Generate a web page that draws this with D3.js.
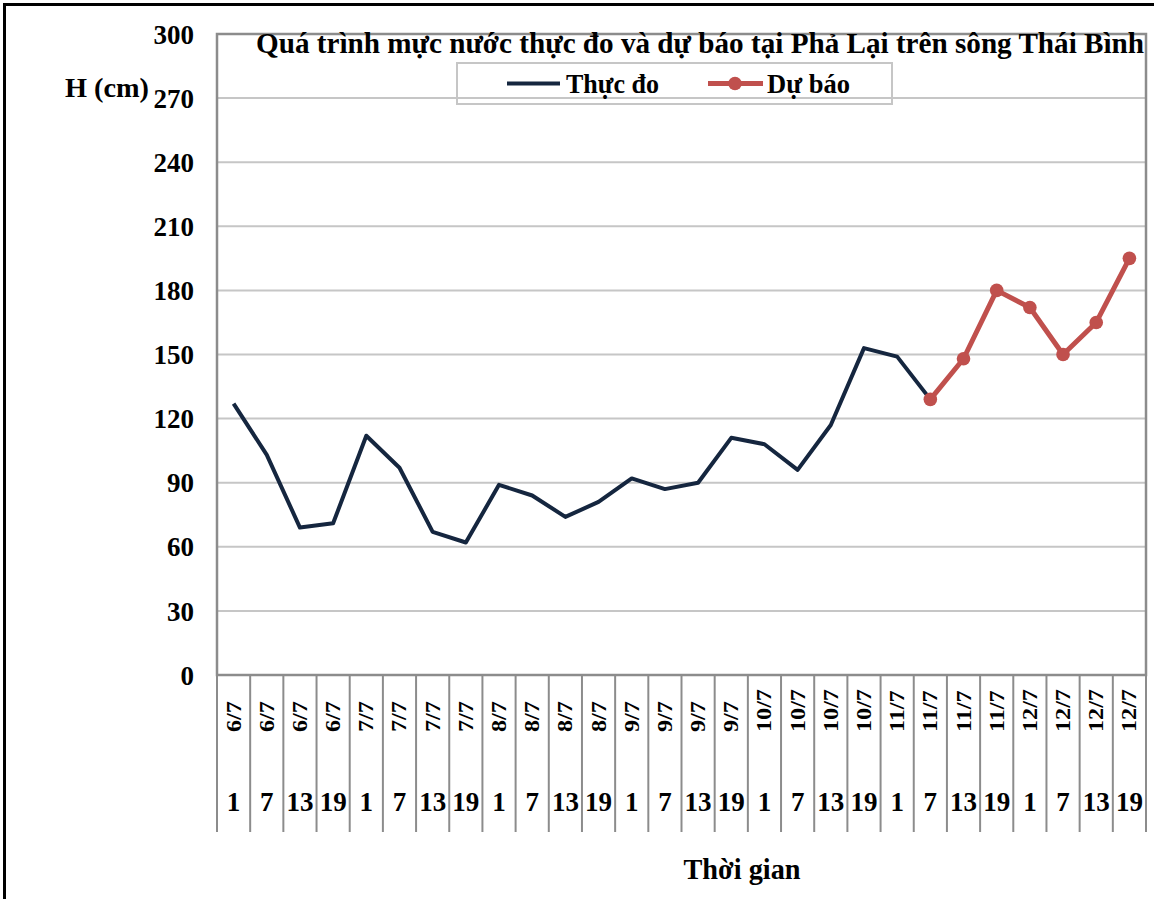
<!DOCTYPE html>
<html>
<head>
<meta charset="utf-8">
<script src="https://cdn.jsdelivr.net/npm/d3@7"></script>
<style>
  html, body { margin: 0; padding: 0; background: #fff; }
  svg text { font-family: "Liberation Serif", "Times New Roman", serif; font-weight: bold; fill: #000; }
</style>
</head>
<body>
<svg id="chart" width="1154" height="899"></svg>
<script>
// ---- data ----
const dates = ["6/7","6/7","6/7","6/7","7/7","7/7","7/7","7/7","8/7","8/7","8/7","8/7",
               "9/7","9/7","9/7","9/7","10/7","10/7","10/7","10/7","11/7","11/7","11/7","11/7",
               "12/7","12/7","12/7","12/7"];
const hours = ["1","7","13","19","1","7","13","19","1","7","13","19","1","7","13","19",
               "1","7","13","19","1","7","13","19","1","7","13","19"];
// measured water level (cm), index 0..21
const measured = [127,103,69,71,112,97,67,62,89,84,74,81,92,87,90,111,108,96,117,153,149,129];
// forecast (cm), index 21..27
const forecastStart = 21;
const forecast = [129,148,180,172,150,165,195];
const yTicks = [0,30,60,90,120,150,180,210,240,270,300];
const seriesNames = ["Thực đo","Dự báo"];
const title = "Quá trình mực nước thực đo và dự báo tại Phả Lại trên sông Thái Bình";

// ---- layout ----
const svg = d3.select("#chart");
const L = 217, R = 1146, T = 34, B = 675;
const navy = "#15263f", red = "#c0504d", gridC = "#c6c6c6", axisC = "#8c8c8c";

const x = d3.scaleBand().domain(d3.range(dates.length)).range([L, R]);
const y = d3.scaleLinear().domain([0, 300]).range([B, T]);
const cx = i => x(i) + x.bandwidth() / 2;

// outer border
svg.append("rect").attr("x", 4.5).attr("y", 4.5).attr("width", 1160).attr("height", 910)
  .attr("fill", "none").attr("stroke", "#000").attr("stroke-width", 3);

// gridlines
svg.append("g").selectAll("line").data(yTicks.filter(v => v > 0 && v < 300)).join("line")
  .attr("x1", L).attr("x2", R).attr("y1", d => y(d)).attr("y2", d => y(d))
  .attr("stroke", gridC).attr("stroke-width", 2);

// plot border
svg.append("rect").attr("x", L).attr("y", T).attr("width", R - L).attr("height", B - T)
  .attr("fill", "none").attr("stroke", axisC).attr("stroke-width", 2.5);

// y axis labels
const yAxis = d3.axisLeft(y).tickValues(yTicks).tickSize(0).tickPadding(0).tickFormat(d3.format("d"));
const yg = svg.append("g").attr("transform", `translate(194,0)`).call(yAxis);
yg.select(".domain").remove();
yg.selectAll("text").attr("font-size", 27).attr("font-family", "Liberation Serif").attr("font-weight", "bold")
  .attr("fill", "#000").attr("text-anchor", "end").attr("dy", "0.34em");

// category separators
svg.append("g").selectAll("line").data(d3.range(dates.length + 1)).join("line")
  .attr("x1", i => L + i * x.step()).attr("x2", i => L + i * x.step())
  .attr("y1", B).attr("y2", 832)
  .attr("stroke", axisC).attr("stroke-width", 2);

// date labels (rotated)
svg.append("g").selectAll("text").data(dates).join("text")
  .attr("transform", (d, i) => `translate(${cx(i) + 7},732) rotate(-90) scale(1.15,1)`)
  .attr("font-size", 21).attr("text-anchor", "start")
  .text(d => d);

// hour labels
svg.append("g").selectAll("text").data(hours).join("text")
  .attr("x", (d, i) => cx(i)).attr("y", 811)
  .attr("font-size", 27).attr("text-anchor", "middle")
  .text(d => d);

// lines
const line = d3.line().x(d => cx(d.i)).y(d => y(d.v));
const mData = measured.map((v, i) => ({ i, v }));
const fData = forecast.map((v, k) => ({ i: forecastStart + k, v }));

svg.append("path").datum(mData).attr("d", line).attr("fill", "none")
  .attr("stroke", navy).attr("stroke-width", 4).attr("stroke-linejoin", "round");
svg.append("path").datum(fData).attr("d", line).attr("fill", "none")
  .attr("stroke", red).attr("stroke-width", 5).attr("stroke-linejoin", "round");
svg.append("g").selectAll("circle").data(fData).join("circle")
  .attr("cx", d => cx(d.i)).attr("cy", d => y(d.v)).attr("r", 6.8).attr("fill", red);

// title
svg.append("text").attr("x", 256).attr("y", 53).attr("font-size", 30)
  .attr("textLength", 888).attr("lengthAdjust", "spacingAndGlyphs").text(title);

// y-axis title
svg.append("text").attr("x", 65).attr("y", 97).attr("font-size", 28)
  .attr("textLength", 84).attr("lengthAdjust", "spacingAndGlyphs").text("H (cm)");

// x-axis title
svg.append("text").attr("x", 742).attr("y", 879).attr("font-size", 30).attr("text-anchor", "middle")
  .attr("textLength", 117).attr("lengthAdjust", "spacingAndGlyphs").text("Thời gian");

// legend
const lg = svg.append("g");
lg.append("rect").attr("x", 457).attr("y", 63).attr("width", 435).attr("height", 41)
  .attr("fill", "none").attr("stroke", "#c6c6c6").attr("stroke-width", 2);
lg.append("line").attr("x1", 507).attr("x2", 560).attr("y1", 83.5).attr("y2", 83.5)
  .attr("stroke", navy).attr("stroke-width", 4);
lg.append("text").attr("x", 566).attr("y", 93).attr("font-size", 28)
  .attr("textLength", 93).attr("lengthAdjust", "spacingAndGlyphs").text(seriesNames[0]);
lg.append("line").attr("x1", 708).attr("x2", 763).attr("y1", 83.5).attr("y2", 83.5)
  .attr("stroke", red).attr("stroke-width", 5);
lg.append("circle").attr("cx", 735).attr("cy", 83.5).attr("r", 6.8).attr("fill", red);
lg.append("text").attr("x", 767).attr("y", 93).attr("font-size", 28)
  .attr("textLength", 83).attr("lengthAdjust", "spacingAndGlyphs").text(seriesNames[1]);
</script>
</body>
</html>
